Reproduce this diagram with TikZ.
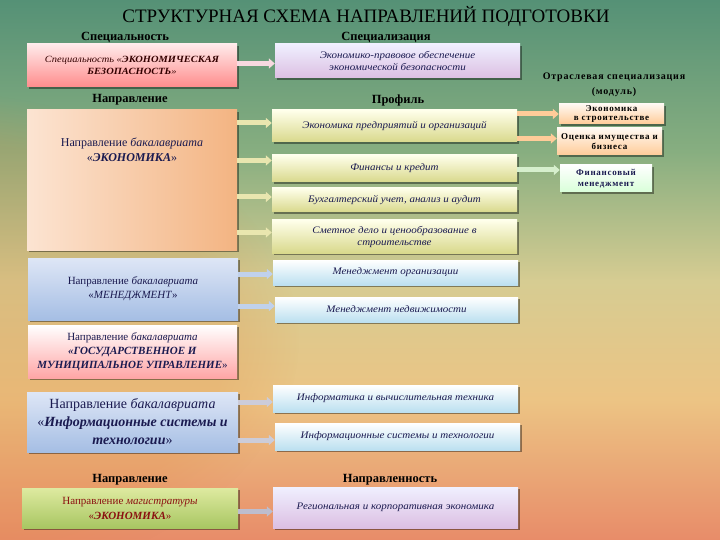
\documentclass[tikz,border=0pt]{standalone}
\usepackage{fontspec}
\setmainfont{Liberation Serif}
\newfontfamily\boxit[FakeStretch=1.1]{Liberation Serif}
\newfontfamily\spaced[LetterSpace=8]{Liberation Serif}
\usetikzlibrary{shadows,arrows.meta,fadings}
\definecolor{bgA}{RGB}{85,145,118}
\definecolor{bgB}{RGB}{135,174,128}
\definecolor{bgC}{RGB}{214,204,146}
\definecolor{bgD}{RGB}{236,196,132}
\definecolor{bgE}{RGB}{232,140,105}
\pgfdeclareverticalshading{bgshade}{100bp}{color(0bp)=(bgE); color(25bp)=(bgE); color(38bp)=(bgD); color(49bp)=(bgC); color(61bp)=(bgB); color(75bp)=(bgA); color(100bp)=(bgA)}
\definecolor{navy}{HTML}{1A1A50}
\definecolor{darkred}{HTML}{8B1010}
\definecolor{skyT}{RGB}{222,230,246}
\definecolor{skyB}{RGB}{165,190,228}
\definecolor{cyB}{RGB}{188,224,240}
\definecolor{magT}{RGB}{222,234,160}
\definecolor{magB}{RGB}{168,198,98}
\definecolor{peachR}{RGB}{243,180,130}
\definecolor{peachL}{RGB}{252,228,210}
\begin{document}
\begin{tikzpicture}[x=1pt,y=-1pt,
  box/.style={rectangle, inner sep=2pt, align=center, draw=none,
    drop shadow={shadow xshift=2pt,shadow yshift=-2pt,fill=black,opacity=0.4}},
  boxtxt/.style={font=\boxit\fontsize{10}{12}\selectfont\itshape, text=navy},
  head/.style={font=\fontsize{12.5}{14}\selectfont\bfseries, text=black},
  pinkb/.style={box, top color=red!8, bottom color=red!45!white},
  lavb/.style={box, top color=blue!6, bottom color=blue!55!red!25!white},
  peachb/.style={box, left color=peachL, right color=peachR},
  profb/.style={box, top color=yellow!8!white, bottom color=olive!30!white},
  blueb/.style={box, top color=skyT, bottom color=skyB},
  cyanb/.style={box, top color=white, bottom color=cyB},
  gmub/.style={box, top color=white, bottom color=red!35!white},
  magb/.style={box, top color=magT, bottom color=magB},
  rpeach/.style={box, top color=orange!5!white, bottom color=orange!40!white},
  rwhite/.style={box, top color=white, bottom color=green!15!white},
  rtxt/.style={font=\spaced\fontsize{9}{10.5}\selectfont\bfseries},
  arr/.style={line width=5pt, -{Triangle[length=6pt,width=10pt]}}
]
\useasboundingbox (0,0) rectangle (720,540);
\fill[shading=bgshade] (0,0) rectangle (720,540);
\fill[color={rgb,255:red,225;green,140;blue,70}, fill opacity=0.22, path fading=circle with fuzzy edge 20 percent] (-80,340) ellipse [x radius=380, y radius=250];

\node[font=\fontsize{19}{21}\selectfont] (title) at (366,16) {СТРУКТУРНАЯ СХЕМА НАПРАВЛЕНИЙ ПОДГОТОВКИ};

\node[head] (h1) at (125,37) {Специальность};
\node[head] (h2) at (386,37) {Специализация};
\node[head] (h3) at (130,100) {Направление};
\node[head] (h4) at (398,100) {Профиль};
\node[head] (h5) at (130,480) {Направление};
\node[head] (h6) at (390,480) {Направленность};
\node[font=\spaced\fontsize{10}{15}\selectfont\bfseries, align=center] (h7) at (614,85) {Отраслевая специализация\\(модуль)};

\node[pinkb, minimum width=210pt, minimum height=43pt, font=\boxit\fontsize{9.5}{12}\selectfont\itshape, text={black!80!red}] (spec) at (132,65.5) {Специальность «\textbf{ЭКОНОМИЧЕСКАЯ}\\\textbf{БЕЗОПАСНОСТЬ}»};
\node[lavb, boxtxt, minimum width=245pt, minimum height=34pt] (specz) at (397.5,61) {Экономико-правовое обеспечение\\экономической безопасности};

\node[peachb, minimum width=210pt, minimum height=140pt] (econ) at (132,180) {};
\node[font=\fontsize{12}{15}\selectfont, text=navy, align=center] (econt) at (132,150) {Направление \textit{бакалавриата}\\«\textbf{\textit{ЭКОНОМИКА}}»};

\node[profb, boxtxt, minimum width=245pt, minimum height=32pt] (p1) at (394.5,126) {Экономика предприятий и организаций};
\node[profb, boxtxt, minimum width=245pt, minimum height=27pt] (p2) at (394.5,168.5) {Финансы и кредит};
\node[profb, boxtxt, minimum width=245pt, minimum height=24pt] (p3) at (394.5,200) {Бухгалтерский учет, анализ и аудит};
\node[profb, boxtxt, minimum width=245pt, minimum height=33pt] (p4) at (394.5,236.5) {Сметное дело и ценообразование в\\строительстве};

\node[rpeach, rtxt, minimum width=105pt, minimum height=20pt, inner sep=0pt, font=\spaced\fontsize{9}{9}\selectfont\bfseries] (r1) at (611.5,114) {Экономика\\в строительстве};
\node[rpeach, rtxt, minimum width=105pt, minimum height=27pt] (r2) at (609.5,141.5) {Оценка имущества и\\бизнеса};
\node[rwhite, rtxt, minimum width=92pt, minimum height=27pt, text=navy] (r3) at (606,178.5) {Финансовый\\менеджмент};

\node[blueb, minimum width=210pt, minimum height=62pt, font=\fontsize{11}{14}\selectfont, text=navy] (man) at (133,289) {Направление \textit{бакалавриата}\\«\textit{МЕНЕДЖМЕНТ}»};
\node[cyanb, boxtxt, minimum width=245pt, minimum height=25pt] (mo) at (395.5,272.5) {Менеджмент организации};
\node[cyanb, boxtxt, minimum width=243pt, minimum height=25pt] (mn) at (396.5,309.5) {Менеджмент недвижимости};

\node[gmub, minimum width=209pt, minimum height=53pt, font=\fontsize{11}{14}\selectfont, text=navy] (gmu) at (132.5,351.5) {Направление \textit{бакалавриата}\\\textbf{\textit{«ГОСУДАРСТВЕННОЕ И}}\\\textbf{\textit{МУНИЦИПАЛЬНОЕ УПРАВЛЕНИЕ}}»};

\node[blueb, minimum width=211pt, minimum height=60pt, font=\fontsize{14}{18}\selectfont, text=navy] (ist) at (132.5,422) {Направление \textit{бакалавриата}\\«\textbf{\textit{Информационные системы и}}\\\textbf{\textit{технологии}}»};
\node[cyanb, boxtxt, minimum width=245pt, minimum height=27pt] (ivt) at (395.5,398.5) {Информатика и вычислительная техника};
\node[cyanb, boxtxt, minimum width=245pt, minimum height=27pt] (isit) at (397.5,436.5) {Информационные системы и технологии};

\node[magb, minimum width=216pt, minimum height=40pt, font=\fontsize{11}{15}\selectfont, text=darkred] (mag) at (130,508) {Направление \textit{магистратуры}\\«\textbf{\textit{ЭКОНОМИКА}}»};
\node[lavb, boxtxt, minimum width=245pt, minimum height=41pt] (rke) at (395.5,507.5) {Региональная и корпоративная экономика};

% arrows
\draw[arr, draw=blue!20!red!15!white] ([yshift=2pt]spec.east) -- ([yshift=2pt]spec.east -| specz.west);
\draw[arr, draw=yellow!20!olive!25!white] ([yshift=3pt]p1.west -| econ.east) -- ([yshift=3pt]p1.west);
\draw[arr, draw=yellow!20!olive!25!white] ([yshift=8pt]p2.west -| econ.east) -- ([yshift=8pt]p2.west);
\draw[arr, draw=yellow!20!olive!25!white] ([yshift=3pt]p3.west -| econ.east) -- ([yshift=3pt]p3.west);
\draw[arr, draw=yellow!20!olive!25!white] ([yshift=4pt]p4.west -| econ.east) -- ([yshift=4pt]p4.west);
\draw[arr, draw=orange!40!white] (r1.west -| p1.east) -- (r1.west);
\draw[arr, draw=orange!40!white] ([yshift=3pt]r2.west -| p1.east) -- ([yshift=3pt]r2.west);
\draw[arr, draw=yellow!20!green!20!white] ([yshift=8.5pt]r3.west -| p2.east) -- ([yshift=8.5pt]r3.west);
\draw[arr, draw=skyB!70!white] ([yshift=-1.5pt]mo.west -| man.east) -- ([yshift=-1.5pt]mo.west);
\draw[arr, draw=skyB!70!white] ([yshift=3.5pt]mn.west -| man.east) -- ([yshift=3.5pt]mn.west);
\draw[arr, draw=blue!15!gray!35!white] ([yshift=-3.5pt]ivt.west -| ist.east) -- ([yshift=-3.5pt]ivt.west);
\draw[arr, draw=blue!15!gray!35!white] ([yshift=-3.5pt]isit.west -| ist.east) -- ([yshift=-3.5pt]isit.west);
\draw[arr, draw=blue!15!gray!45!white] ([yshift=-4pt]rke.west -| mag.east) -- ([yshift=-4pt]rke.west);
\end{tikzpicture}
\end{document}
